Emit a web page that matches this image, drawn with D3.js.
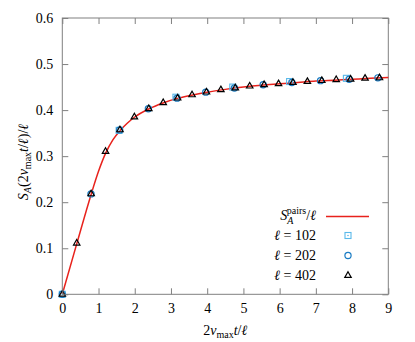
<!DOCTYPE html>
<html>
<head>
<meta charset="utf-8">
<script src="https://cdn.jsdelivr.net/npm/d3@7"></script>
<style>
  body { margin: 0; background: #fff; }
</style>
</head>
<body>
<div id="chart"></div>
<script>
// tick values
const xTicks = [0, 1, 2, 3, 4, 5, 6, 7, 8, 9]
const yTicks = [0, 0.1, 0.2, 0.3, 0.4, 0.5, 0.6]

// S_A^pairs / l curve
const pairsX = [0, 0.4, 0.8, 1.0, 1.2, 1.4, 1.6, 1.8, 2.0, 2.4, 2.8, 3.2, 3.6, 4.0, 4.5, 5.0, 5.5, 6.0, 6.5, 7.0, 7.5, 8.0, 8.5, 9.0]
const pairsY = [0, 0.110, 0.218, 0.267, 0.307, 0.336, 0.356, 0.372, 0.385, 0.403, 0.416, 0.426, 0.433, 0.439, 0.445, 0.450, 0.454, 0.457, 0.460, 0.463, 0.465, 0.467, 0.469, 0.471]

// l = 102
const l102X = [0, 1.569, 3.137, 4.706, 6.275, 7.843]
const l102Y = [0, 0.356, 0.428, 0.450, 0.462, 0.469]

// l = 202
const l202X = [0, 0.792, 1.584, 2.376, 3.168, 3.960, 4.752, 5.545, 6.337, 7.129, 7.921, 8.713]
const l202Y = [0, 0.218, 0.357, 0.403, 0.426, 0.439, 0.448, 0.455, 0.460, 0.464, 0.467, 0.470]

// l = 402
const l402X = [0, 0.398, 0.796, 1.194, 1.592, 1.990, 2.388, 2.786, 3.184, 3.582, 3.980, 4.378, 4.776, 5.174, 5.572, 5.970, 6.368, 6.766, 7.164, 7.562, 7.960, 8.358, 8.756]
const l402Y = [0, 0.111, 0.218, 0.310, 0.357, 0.385, 0.403, 0.416, 0.426, 0.433, 0.439, 0.444, 0.448, 0.452, 0.455, 0.457, 0.460, 0.462, 0.464, 0.466, 0.467, 0.469, 0.470]

const width = 415
const height = 342
const margin = { top: 18, left: 62.3 }
const innerW = 326
const innerH = 276.3

const serif = '"Liberation Serif", serif'
const frameColor = '#808080'
const red = '#e8221c'
const cyan = '#5ab9ea'
const blue = '#1a7cc4'

const zip = (xs, ys) => xs.map((v, i) => ({ x: v, y: ys[i] }))

const svg = d3.select('#chart').append('svg')
    .attr('width', width)
    .attr('height', height)
    .attr('font-family', serif)

const g = svg.append('g')
    .attr('transform', `translate(${margin.left},${margin.top})`)

const x = d3.scaleLinear().domain([0, 9]).range([0, innerW])
const y = d3.scaleLinear().domain([0, 0.6]).range([innerH, 0])

const yFmt = d => d === 0 ? '0' : d3.format('.1f')(d)

function styleAxis(sel) {
    sel.attr('font-family', serif).attr('font-size', 14)
    sel.select('.domain').remove()
    sel.selectAll('.tick line').attr('stroke', frameColor)
    sel.selectAll('.tick text').attr('fill', '#000')
}

// frame + mirrored ticks (no labels)
g.append('rect')
    .attr('width', innerW)
    .attr('height', innerH)
    .attr('fill', 'none')
    .attr('stroke', frameColor)
    .attr('stroke-width', 1)

g.append('g')
    .call(d3.axisTop(x).tickValues(xTicks).tickSizeInner(-6).tickSizeOuter(0).tickFormat(''))
    .call(styleAxis)
    .selectAll('text').remove()

g.append('g')
    .attr('transform', `translate(${innerW},0)`)
    .call(d3.axisRight(y).tickValues(yTicks).tickSizeInner(-6).tickSizeOuter(0).tickFormat(''))
    .call(styleAxis)
    .selectAll('text').remove()

// curve
const line = d3.line()
    .x(d => x(d.x))
    .y(d => y(d.y))
    .curve(d3.curveMonotoneX)

g.append('path')
    .attr('d', line(zip(pairsX, pairsY)))
    .attr('fill', 'none')
    .attr('stroke', red)
    .attr('stroke-width', 1.5)

// markers
function drawSquare(sel, cx, cy) {
    sel.append('rect')
        .attr('x', cx - 3).attr('y', cy - 3)
        .attr('width', 6).attr('height', 6)
        .attr('fill', 'none')
        .attr('stroke', cyan)
        .attr('stroke-width', 1.1)
    sel.append('circle')
        .attr('cx', cx).attr('cy', cy).attr('r', 0.8)
        .attr('fill', cyan)
}

function drawCircle(sel, cx, cy) {
    sel.append('circle')
        .attr('cx', cx).attr('cy', cy).attr('r', 3.1)
        .attr('fill', 'none')
        .attr('stroke', blue)
        .attr('stroke-width', 1.2)
}

const triSymbol = d3.symbol().type(d3.symbolTriangle).size(18)
function drawTriangle(sel, cx, cy) {
    sel.append('path')
        .attr('d', triSymbol())
        .attr('transform', `translate(${cx},${cy})`)
        .attr('fill', 'none')
        .attr('stroke', '#000')
        .attr('stroke-width', 1.2)
}

const marks = g.append('g')
zip(l102X, l102Y).forEach(d => drawSquare(marks, x(d.x), y(d.y)))
zip(l202X, l202Y).forEach(d => drawCircle(marks, x(d.x), y(d.y)))
zip(l402X, l402Y).forEach(d => drawTriangle(marks, x(d.x), y(d.y)))

// labelled axes drawn last
g.append('g')
    .attr('transform', `translate(0,${innerH})`)
    .call(d3.axisBottom(x).tickValues(xTicks).tickFormat(d3.format('d')).tickSizeInner(-6).tickSizeOuter(0).tickPadding(9))
    .call(styleAxis)

g.append('g')
    .call(d3.axisLeft(y).tickValues(yTicks).tickFormat(yFmt).tickSizeInner(-6).tickSizeOuter(0).tickPadding(9))
    .call(styleAxis)

// axis titles
const xTitle = svg.append('text')
    .attr('x', margin.left + innerW / 2)
    .attr('y', 335)
    .attr('text-anchor', 'middle')
    .attr('font-size', 14)
xTitle.append('tspan').text('2')
xTitle.append('tspan').attr('font-style', 'italic').text('v')
xTitle.append('tspan').attr('dy', 3).attr('font-size', 10).text('max')
xTitle.append('tspan').attr('dy', -3).attr('font-style', 'italic').text('t')
xTitle.append('tspan').text('/')
xTitle.append('tspan').attr('font-style', 'italic').text('ℓ')

const yTitle = svg.append('text')
    .attr('transform', 'translate(28,162) rotate(-90)')
    .attr('text-anchor', 'middle')
    .attr('font-size', 14)
yTitle.append('tspan').attr('font-style', 'italic').text('S')
yTitle.append('tspan').attr('dy', 3).attr('font-size', 10).attr('font-style', 'italic').text('A')
yTitle.append('tspan').attr('dy', -3).text('(2')
yTitle.append('tspan').attr('font-style', 'italic').text('v')
yTitle.append('tspan').attr('dy', 3).attr('font-size', 10).text('max')
yTitle.append('tspan').attr('dy', -3).attr('font-style', 'italic').text('t')
yTitle.append('tspan').text('/')
yTitle.append('tspan').attr('font-style', 'italic').text('ℓ')
yTitle.append('tspan').text(')/')
yTitle.append('tspan').attr('font-style', 'italic').text('ℓ')

// legend
const legendTextX = 316
const legendMarkX = 348
const legendRows = [219.5, 239.5, 259.5, 279.5]

const t1 = svg.append('text')
    .attr('x', legendTextX).attr('y', legendRows[0])
    .attr('text-anchor', 'end')
    .attr('font-size', 14)
t1.append('tspan').attr('font-style', 'italic').text('S')
t1.append('tspan').attr('dy', 4).attr('font-size', 10).attr('font-style', 'italic').text('A')
t1.append('tspan').attr('dx', -6.5).attr('dy', -10).attr('font-size', 10).text('pairs')
t1.append('tspan').attr('dy', 6).text('/')
t1.append('tspan').attr('font-style', 'italic').text('ℓ')

svg.append('line')
    .attr('x1', 326).attr('x2', 369)
    .attr('y1', legendRows[0] - 3).attr('y2', legendRows[0] - 3)
    .attr('stroke', red)
    .attr('stroke-width', 1.5)

const legendLabels = ['102', '202', '402']
const legendDraw = [drawSquare, drawCircle, drawTriangle]
legendLabels.forEach((lab, i) => {
    const t = svg.append('text')
        .attr('x', legendTextX).attr('y', legendRows[i + 1])
        .attr('text-anchor', 'end')
        .attr('font-size', 14)
    t.append('tspan').attr('font-style', 'italic').text('ℓ')
    t.append('tspan').text(' = ' + lab)
    legendDraw[i](svg, legendMarkX, legendRows[i + 1] - 4)
})
</script>
</body>
</html>
